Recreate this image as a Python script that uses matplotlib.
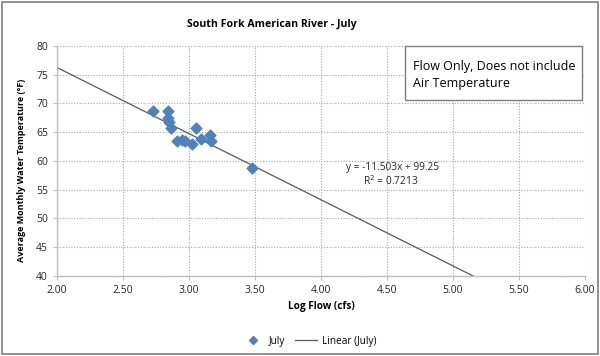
import numpy as np
import matplotlib.pyplot as plt
from matplotlib.lines import Line2D
from matplotlib.patches import Rectangle

# log10 of mean July flow vs mean monthly water temperature
log_flow = [2.73, 2.84, 2.84, 2.85, 2.86, 2.91, 2.945, 2.97, 3.02, 3.05, 3.09, 3.16, 3.17, 3.48]
water_temp = [68.6, 68.7, 67.5, 66.8, 65.8, 63.5, 63.7, 63.5, 62.9, 65.8, 63.8, 64.5, 63.4, 58.8]

# linear trend as reported
slope = -11.503
intercept = 99.25
r2 = 0.7213

xticks = [2.0, 2.5, 3.0, 3.5, 4.0, 4.5, 5.0, 5.5, 6.0]
yticks = [40, 45, 50, 55, 60, 65, 70, 75, 80]

plt.rcParams['font.family'] = ['Open Sans', 'DejaVu Sans']

fig = plt.figure(figsize=(6.0, 3.56), dpi=100)
fig.patch.set_facecolor('white')
fig.patches.append(Rectangle((0.004, 0.006), 0.992, 0.988, transform=fig.transFigure,
                             fill=False, edgecolor='#7f7f7f', linewidth=1.2))

ax = fig.add_axes([0.095, 0.225, 0.88, 0.646])
ax.set_xlim(2.0, 6.0)
ax.set_ylim(40, 80)
ax.set_xticks(xticks)
ax.set_yticks(yticks)
ax.set_xticklabels(['%.2f' % t for t in xticks])
ax.tick_params(axis='both', labelsize=7.5, length=3, width=0.8,
               colors='#bfbfbf', labelcolor='#262626')

ax.grid(True, linestyle=(0, (1, 1.5)), color='#a6a6a6', linewidth=0.8)
ax.set_axisbelow(True)
for side in ['top', 'right']:
    ax.spines[side].set_visible(False)
for side in ['left', 'bottom']:
    ax.spines[side].set_color('#bfbfbf')
    ax.spines[side].set_linewidth(1.0)

# trendline from x=2 until it reaches the bottom of the axis
x_end = (40 - intercept) / slope
xs = np.array([2.0, x_end])
ax.plot(xs, slope * xs + intercept, color='#595959', linewidth=0.9, zorder=2)

ax.scatter(log_flow, water_temp, marker='D', s=30, color='#4f81bd',
           edgecolor='#4f81bd', zorder=3)

ax.text(4.54, 58.8, 'y = -11.503x + 99.25', fontsize=7.3, ha='center', va='center', color='#262626')
ax.text(4.53, 56.5, 'R$^2$ = %.4f' % r2, fontsize=7.3, ha='center', va='center', color='#262626')

# note box in the upper right corner
ax.add_patch(Rectangle((4.636, 70.6), 5.975 - 4.636, 80 - 70.6, facecolor='white',
                       edgecolor='#7f7f7f', linewidth=1.0, zorder=4, clip_on=False))
ax.text(4.70, 76.5, 'Flow Only, Does not include', fontsize=9, ha='left', va='center',
        color='#000000', zorder=5)
ax.text(4.70, 73.5, 'Air Temperature', fontsize=9, ha='left', va='center',
        color='#000000', zorder=5)

fig.text(272 / 600, 1 - 24 / 356, 'South Fork American River - July', fontsize=7.6,
         fontweight='bold', ha='center', va='center', color='#000000')
ax.set_xlabel('Log Flow (cfs)', fontsize=7.2, fontweight='bold', labelpad=4)
ax.set_ylabel('Average Monthly Water Temperature (°F)', fontsize=6.5, fontweight='bold', labelpad=8)
ax.yaxis.set_label_coords(-0.058, 0.46)

handles = [Line2D([], [], marker='D', linestyle='none', color='#4f81bd', markersize=4.5),
           Line2D([], [], color='#595959', linewidth=0.9)]
fig.legend(handles, ['July', 'Linear (July)'], loc='center', bbox_to_anchor=(0.515, 0.042),
           ncol=2, frameon=False, fontsize=7.2, handlelength=2.2, columnspacing=1.0,
           handletextpad=0.5)

fig.savefig('out.png', dpi=100)
